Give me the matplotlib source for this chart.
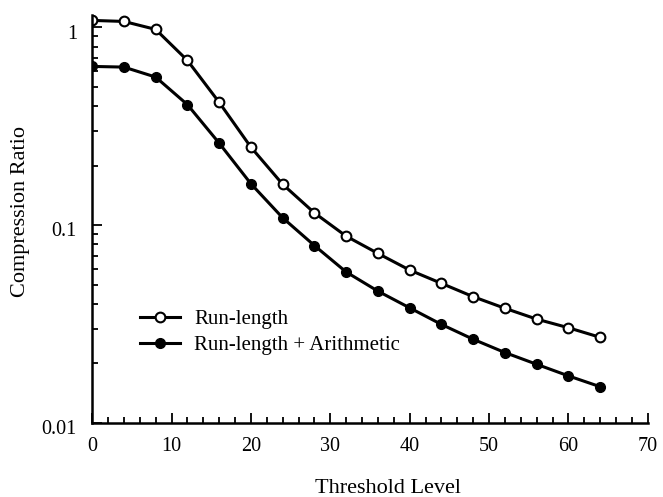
import matplotlib
matplotlib.use("Agg")
from matplotlib import pyplot as plt
from matplotlib import transforms
from matplotlib.ticker import MultipleLocator, FixedLocator, FixedFormatter, LogLocator, NullFormatter

# dados
limiar = [0, 4, 8, 12, 16, 20, 24, 28, 32, 36, 40, 44, 48, 52, 56, 60, 64]
run_length = [1.085, 1.072, 0.977, 0.681, 0.418, 0.248, 0.161, 0.1154, 0.088, 0.072,
              0.0593, 0.0508, 0.0435, 0.038, 0.0335, 0.0303, 0.0271]
run_length_arit = [0.635, 0.630, 0.561, 0.407, 0.260, 0.162, 0.109, 0.0789, 0.058, 0.0464,
                   0.0382, 0.0315, 0.0265, 0.0227, 0.0198, 0.0173, 0.01525]
y_ticks = [1, 0.1, 0.01]
y_labels = ['1', '0.1', '0.01']

plt.rcParams['font.family'] = ['Liberation Serif', 'DejaVu Serif']

fig = plt.figure(figsize=(6.63, 4.97), dpi=100)
ax = fig.add_axes([0.139, 0.149, 0.838, 0.82])

ax.plot(limiar, run_length, '-o', color='black', lw=2.2, ms=7,
        mfc='white', mec='black', mew=1.5, label='Run-length')
ax.plot(limiar, run_length_arit, '-o', color='black', lw=2.2, ms=7,
        mfc='black', mec='black', label='Run-length + Arithmetic')

ax.set_yscale('log')
ax.set_ylim(0.01, 1.15)
ax.set_xlim(0, 70)

# eixos: só esquerda e baixo
ax.spines['top'].set_visible(False)
ax.spines['right'].set_visible(False)
ax.spines['left'].set_linewidth(1.8)
ax.spines['bottom'].set_linewidth(1.8)

ax.xaxis.set_major_locator(MultipleLocator(10))
ax.xaxis.set_minor_locator(MultipleLocator(2))
ax.yaxis.set_major_locator(FixedLocator(y_ticks))
ax.yaxis.set_major_formatter(FixedFormatter(y_labels))
ax.yaxis.set_minor_locator(LogLocator(base=10, subs=range(2, 10)))
ax.yaxis.set_minor_formatter(NullFormatter())

ax.tick_params(which='both', direction='in', labelsize=14.5, width=1.3)
ax.tick_params(which='major', length=7)
ax.tick_params(which='minor', length=4)
ax.tick_params(axis='x', which='major', pad=10)
ax.tick_params(axis='y', which='major', pad=11)

# rótulos do eixo y ligeiramente abaixo das marcas, como no original
desvio = transforms.ScaledTranslation(0, -3 / 72, fig.dpi_scale_trans)
for lbl in ax.yaxis.get_majorticklabels():
    lbl.set_transform(lbl.get_transform() + desvio)

ax.set_xlabel('Threshold Level', fontsize=16)
ax.xaxis.label.set_va('baseline')
ax.xaxis.set_label_coords(0.532, -0.172)
ax.set_ylabel('Compression Ratio', fontsize=16)
ax.yaxis.set_label_coords(-0.111, 0.52)

ax.legend(loc='upper left', bbox_to_anchor=(0.086, 0.278), frameon=False,
          fontsize=15, handlelength=1.9, labelspacing=0.3, handletextpad=0.7,
          borderpad=0, borderaxespad=0)

plt.savefig('out.png', dpi=100)
